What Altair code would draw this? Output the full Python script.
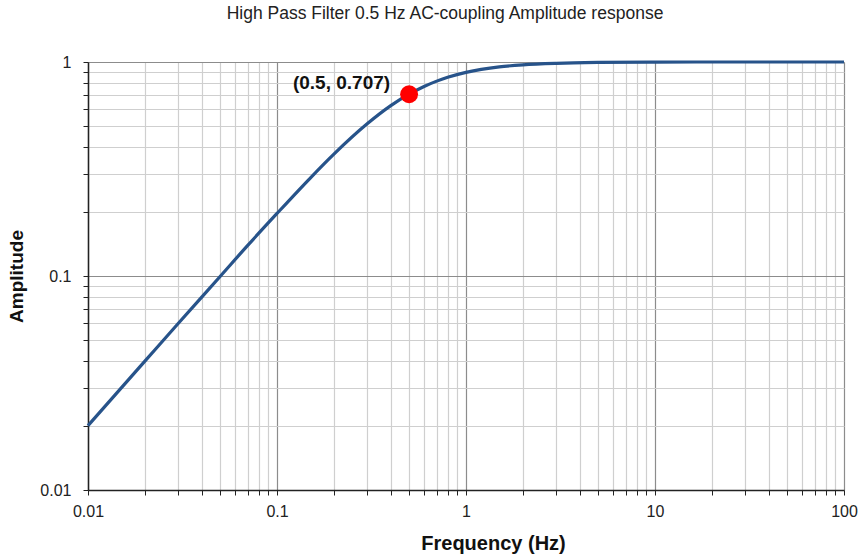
import altair as alt
import pandas as pd

freq = [0.01, 0.02, 0.03, 0.05, 0.07, 0.1, 0.15, 0.2, 0.3, 0.4, 0.5, 0.6, 0.7, 0.8, 1, 1.5, 2, 3, 5, 10, 20, 50, 100]
amp = [0.02, 0.04, 0.06, 0.0995, 0.139, 0.196, 0.287, 0.371, 0.514, 0.625, 0.707, 0.768, 0.814, 0.848, 0.894, 0.949, 0.970, 0.986, 0.995, 0.999, 1.0, 1.0, 1.0]

marker_x = [0.5]
marker_y = [0.707]
marker_label = ["(0.5, 0.707)"]

x_ticks = [m * 10.0 ** e for e in range(-2, 2) for m in range(1, 10)] + [100]
y_ticks = [m * 10.0 ** e for e in range(-2, 0) for m in range(1, 10)] + [1]
x_major = [0.01, 0.1, 1, 10, 100]
y_major = [0.01, 0.1, 1]

df = pd.DataFrame({"f": freq, "a": amp})
dm = pd.DataFrame({"f": marker_x, "a": marker_y, "t": marker_label})

FONT = "Liberation Sans"

def major_test(vals):
    return "indexof([" + ",".join(repr(v) for v in vals) + "], datum.value) >= 0"

x_axis = alt.Axis(
    values=[round(v, 6) for v in x_ticks],
    format="~g",
    labelExpr=major_test(x_major) + " ? datum.label : ''",
    gridColor={"condition": {"test": major_test(x_major), "value": "#8c8c8c"}, "value": "#cfcfcf"},
    gridWidth=1.2,
    title="Frequency (Hz)",
    titleFont=FONT, titleFontSize=20, titleFontWeight="bold", titleColor="#111",
    titleX=405, titleY=53, titleBaseline="middle", titleAlign="center",
    labelFont=FONT, labelFontSize=16, labelColor="#222", labelPadding=8,
    domainColor="#222", domainWidth=1.5, tickColor="#222", tickSize=5,
    labelFlush=False, labelOverlap=False,
)
y_axis = alt.Axis(
    values=[round(v, 6) for v in y_ticks],
    format="~g",
    labelExpr=major_test(y_major) + " ? datum.label : ''",
    gridColor={"condition": {"test": major_test(y_major), "value": "#8c8c8c"}, "value": "#cfcfcf"},
    gridWidth=1.2,
    title="Amplitude",
    titleFont=FONT, titleFontSize=19, titleFontWeight="bold", titleColor="#111",
    titleX=-72, titleY=214, titleBaseline="middle", titleAlign="center", titleAngle=270,
    labelFont=FONT, labelFontSize=16, labelColor="#222", labelPadding=12,
    domainColor="#222", domainWidth=1.5, tickColor="#222", tickSize=5,
    labelFlush=False, labelOverlap=False,
)

xs = alt.Scale(type="log", domain=[0.01, 100], nice=False)
ys = alt.Scale(type="log", domain=[0.01, 1], nice=False)

line = alt.Chart(df).mark_line(color="#27538A", strokeWidth=3.2, interpolate="monotone").encode(
    x=alt.X("f:Q", scale=xs, axis=x_axis),
    y=alt.Y("a:Q", scale=ys, axis=y_axis),
)

pt = alt.Chart(dm).mark_point(filled=True, color="#FF0000", opacity=1, size=320).encode(
    x=alt.X("f:Q", scale=xs), y=alt.Y("a:Q", scale=ys)
)

lbl = alt.Chart(dm).mark_text(
    font=FONT, fontSize=19, fontWeight="bold", color="#111", align="right", dx=-19, dy=-11
).encode(x=alt.X("f:Q", scale=xs), y=alt.Y("a:Q", scale=ys), text="t:N")

chart = alt.layer(line, pt, lbl).properties(
    width=756, height=428,
    autosize=alt.AutoSizeParams(type="none"),
    padding={"left": 88, "top": 62, "right": 16, "bottom": 66},
    title=alt.TitleParams(
        "High Pass Filter 0.5 Hz AC-coupling Amplitude response",
        font=FONT, fontSize=17.5, fontWeight="normal", color="#222",
        anchor="middle", offset=32, dx=-21,
    ),
).configure_view(stroke=None).configure(background="white")

chart.save("out.html", embed_options={"renderer": "svg", "actions": False})
